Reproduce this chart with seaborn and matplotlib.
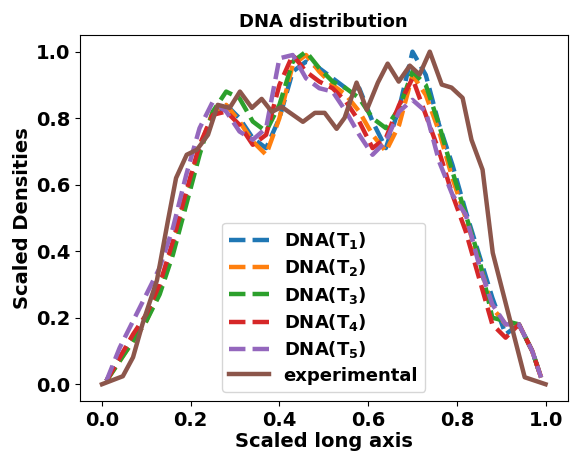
import numpy as np
import pandas as pd
import matplotlib
matplotlib.use("Agg")
import matplotlib.pyplot as plt
import seaborn as sns

# ---- data ----
x_sim = [0.01, 0.04, 0.07, 0.10, 0.13, 0.16, 0.19, 0.22, 0.25, 0.28, 0.31, 0.34,
         0.37, 0.40, 0.43, 0.46, 0.49, 0.52, 0.55, 0.58, 0.61, 0.64, 0.67, 0.70,
         0.73, 0.76, 0.79, 0.82, 0.85, 0.88, 0.91, 0.94, 0.97, 0.99]

dna_t1 = [0.01, 0.08, 0.14, 0.20, 0.29, 0.42, 0.57, 0.71, 0.81, 0.84, 0.80, 0.74,
          0.71, 0.80, 0.94, 0.97, 0.95, 0.92, 0.89, 0.89, 0.79, 0.71, 0.83, 1.00,
          0.93, 0.78, 0.66, 0.52, 0.39, 0.26, 0.15, 0.18, 0.10, 0.02]
dna_t2 = [0.01, 0.07, 0.13, 0.19, 0.28, 0.41, 0.56, 0.71, 0.82, 0.84, 0.79, 0.73,
          0.69, 0.80, 0.96, 0.99, 0.94, 0.90, 0.87, 0.82, 0.75, 0.70, 0.78, 0.93,
          0.87, 0.76, 0.62, 0.50, 0.37, 0.23, 0.18, 0.18, 0.10, 0.02]
dna_t3 = [0.01, 0.07, 0.13, 0.19, 0.27, 0.39, 0.54, 0.69, 0.82, 0.88, 0.86, 0.79,
          0.76, 0.84, 0.97, 1.00, 0.95, 0.91, 0.89, 0.86, 0.80, 0.77, 0.83, 0.94,
          0.90, 0.78, 0.64, 0.51, 0.38, 0.20, 0.19, 0.18, 0.10, 0.02]
dna_t4 = [0.01, 0.08, 0.15, 0.21, 0.30, 0.43, 0.58, 0.72, 0.81, 0.82, 0.78, 0.72,
          0.75, 0.90, 0.99, 0.94, 0.91, 0.89, 0.85, 0.79, 0.71, 0.74, 0.84, 0.92,
          0.81, 0.70, 0.57, 0.46, 0.32, 0.18, 0.14, 0.18, 0.10, 0.02]
dna_t5 = [0.01, 0.11, 0.19, 0.27, 0.35, 0.47, 0.63, 0.77, 0.85, 0.82, 0.76, 0.735,
          0.77, 0.98, 0.99, 0.92, 0.89, 0.88, 0.82, 0.75, 0.69, 0.73, 0.82, 0.855,
          0.82, 0.67, 0.57, 0.51, 0.36, 0.24, 0.18, 0.18, 0.10, 0.02]

x_exp = [0.0, 0.047, 0.070, 0.092, 0.124, 0.149, 0.167, 0.191, 0.214, 0.239, 0.261,
         0.288, 0.311, 0.338, 0.360, 0.383, 0.405, 0.453, 0.480, 0.502, 0.529,
         0.547, 0.574, 0.597, 0.622, 0.644, 0.669, 0.694, 0.716, 0.739, 0.766,
         0.788, 0.813, 0.833, 0.858, 0.881, 0.953, 1.0]
y_exp = [0.0, 0.024, 0.081, 0.184, 0.313, 0.494, 0.620, 0.690, 0.705, 0.750, 0.840,
         0.831, 0.880, 0.831, 0.858, 0.819, 0.834, 0.789, 0.816, 0.816, 0.768,
         0.801, 0.907, 0.825, 0.907, 0.964, 0.910, 0.958, 0.931, 1.0, 0.901,
         0.892, 0.861, 0.735, 0.645, 0.395, 0.021, 0.0]

sim_labels = [r"DNA($\mathbf{T_1}$)", r"DNA($\mathbf{T_2}$)", r"DNA($\mathbf{T_3}$)",
              r"DNA($\mathbf{T_4}$)", r"DNA($\mathbf{T_5}$)"]
exp_label = "experimental"

# ---- plot ----
plt.rcParams["font.family"] = ["DejaVu Sans"]
plt.rcParams["font.weight"] = "bold"
plt.rcParams["axes.labelweight"] = "bold"
plt.rcParams["axes.titleweight"] = "bold"

fig = plt.figure(figsize=(5.7, 4.55), dpi=100)
ax = fig.add_axes([0.140, 0.119, 0.856, 0.804])

palette = sns.color_palette("tab10")
for i, (lab, ys) in enumerate(zip(sim_labels, [dna_t1, dna_t2, dna_t3, dna_t4, dna_t5])):
    df = pd.DataFrame({"x": x_sim, "y": ys})
    sns.lineplot(data=df, x="x", y="y", ax=ax, color=palette[i], lw=3.2,
                 linestyle="--", label=lab, sort=False)

df_e = pd.DataFrame({"x": x_exp, "y": y_exp})
sns.lineplot(data=df_e, x="x", y="y", ax=ax, color=palette[5], lw=3.2,
             label=exp_label, sort=False)

ax.set_xlim(-0.05, 1.05)
ax.set_ylim(-0.05, 1.05)
ax.set_xticks([0.0, 0.2, 0.4, 0.6, 0.8, 1.0])
ax.set_yticks([0.0, 0.2, 0.4, 0.6, 0.8, 1.0])
ax.tick_params(labelsize=14)
for t in ax.get_xticklabels() + ax.get_yticklabels():
    t.set_fontweight("bold")
ax.set_xlabel("Scaled long axis", fontsize=14, fontweight="bold", labelpad=2)
ax.set_ylabel("Scaled Densities", fontsize=14, fontweight="bold", labelpad=3)
ax.set_title("DNA distribution", fontsize=13, fontweight="bold", pad=6)
leg = ax.legend(loc="lower center", prop={"size": 13, "weight": "bold"},
                labelspacing=0.35, handlelength=2.2)

fig.savefig("out.png", dpi=100)
